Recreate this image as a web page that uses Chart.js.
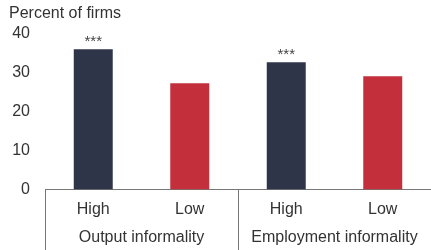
<!DOCTYPE html>
<html lang="en">
<head>
    <meta charset="UTF-8">
    <title>Percent of firms</title>
    <script src="https://cdn.jsdelivr.net/npm/chart.js"></script>
    <style>
        html, body { margin: 0; padding: 0; background: #fff; }
        #wrap { width: 431px; height: 250px; }
    </style>
</head>
<body>

<div id="wrap"><canvas id="firmsChart"></canvas></div>

<script>
    // values
    const levels = ['High', 'Low', 'High', 'Low'];
    const groups = ['Output informality', 'Employment informality'];
    const percentFirms = [35.9, 27.2, 32.6, 29.0];
    const stars = ['***', '', '***', ''];
    const yTicks = [0, 10, 20, 30, 40];

    const NAVY = '#2f3548';
    const RED = '#c3303c';
    const AXIS = '#777';

    Chart.defaults.font.family = '"Liberation Sans", Arial, sans-serif';
    Chart.defaults.font.size = 16;
    Chart.defaults.color = '#333';

    // separators between the two groups + significance stars
    const groupLines = {
        id: 'groupLines',
        afterDraw(chart) {
            const { ctx, chartArea, scales: { x } } = chart;
            const step = x.getPixelForValue(1) - x.getPixelForValue(0);
            ctx.save();
            ctx.strokeStyle = AXIS;
            ctx.lineWidth = 1;
            for (let i = 0; i < levels.length; i += 2) {
                const px = Math.round(x.getPixelForValue(i) - step / 2) + 0.5;
                ctx.beginPath();
                ctx.moveTo(px, chartArea.bottom);
                ctx.lineTo(px, chart.height);
                ctx.stroke();
            }
            const meta = chart.getDatasetMeta(0);
            ctx.fillStyle = '#444';
            ctx.font = '15px "Liberation Sans", Arial, sans-serif';
            ctx.textAlign = 'center';
            ctx.textBaseline = 'alphabetic';
            meta.data.forEach((bar, i) => {
                if (stars[i]) ctx.fillText(stars[i], bar.x, bar.y - 3);
            });
            ctx.restore();
        }
    };

    new Chart(document.getElementById('firmsChart'), {
        type: 'bar',
        data: {
            labels: levels,
            datasets: [{
                data: percentFirms,
                backgroundColor: levels.map(l => l === 'High' ? NAVY : RED),
                categoryPercentage: 1,
                barPercentage: 0.404
            }]
        },
        options: {
            responsive: true,
            maintainAspectRatio: false,
            animation: false,
            layout: { padding: { left: 9, right: 0, top: 0, bottom: 3 } },
            plugins: {
                legend: { display: false },
                tooltip: { enabled: false },
                title: {
                    display: true,
                    text: 'Percent of firms',
                    align: 'start',
                    color: '#333',
                    font: { size: 16, weight: 'normal' },
                    padding: { top: 4, bottom: 10 }
                }
            },
            scales: {
                y: {
                    min: 0,
                    max: 40,
                    afterBuildTicks: s => { s.ticks = yTicks.map(v => ({ value: v })); },
                    afterFit: s => { s.width = 36; },
                    grid: { display: false, drawTicks: false },
                    border: { display: false },
                    ticks: { padding: 15, color: '#333' }
                },
                x: {
                    afterFit: s => { s.height = 29.2; },
                    grid: { display: false, drawTicks: false },
                    border: { display: true, color: AXIS, width: 1 },
                    ticks: { padding: 10, color: '#333', maxRotation: 0 }
                },
                x2: {
                    type: 'category',
                    labels: groups,
                    position: 'bottom',
                    offset: true,
                    afterFit: s => { s.height = 28.2; },
                    grid: { display: false, drawTicks: false },
                    border: { display: false },
                    ticks: { padding: 9, color: '#333', maxRotation: 0 }
                }
            }
        },
        plugins: [groupLines]
    });
</script>

</body>
</html>
